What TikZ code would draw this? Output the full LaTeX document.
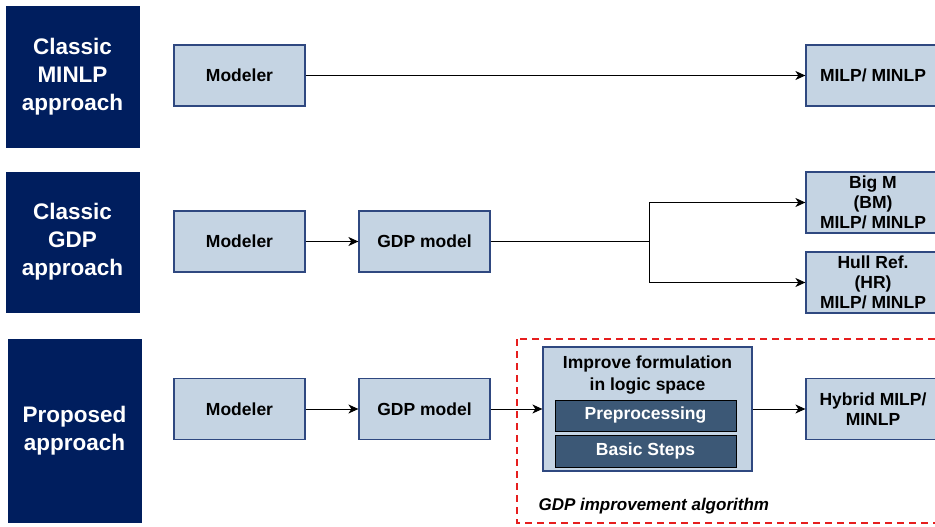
\documentclass[tikz,border=0pt]{standalone}
\usepackage{fontspec}
\setmainfont{Liberation Sans}
\usetikzlibrary{arrows.meta}

\definecolor{navy}{RGB}{0,30,94}
\definecolor{boxfill}{RGB}{197,212,227}
\definecolor{boxline}{RGB}{47,72,128}
\definecolor{stepfill}{RGB}{60,88,118}
\definecolor{algored}{RGB}{230,30,30}

\begin{document}
\begin{tikzpicture}[x=1pt,y=-1pt,
  approach/.style={fill=navy, draw=navy, text=white, align=center, minimum width=133pt,
    font=\fontsize{22.5}{28}\selectfont\bfseries},
  block/.style={fill=boxfill, draw=boxline, line width=1.2pt, align=center, minimum width=131pt,
    minimum height=61pt, font=\fontsize{17.5}{20}\selectfont\bfseries},
  stepbox/.style={fill=stepfill, draw=black, line width=1pt, text=white, minimum width=181pt,
    font=\fontsize{17.5}{20}\selectfont\bfseries},
  flow/.style={-{Stealth[length=10pt,width=9pt,inset=3pt]}, line width=1pt}]
 \useasboundingbox (0,0) rectangle (935,527);

 % approach labels
 \node[approach, minimum height=141pt] (cls1) at (72.5,76.5) {Classic\\MINLP\\approach};
 \node[approach, minimum height=140pt] (cls2) at (72.5,242) {Classic\\GDP\\approach};
 \node[approach, minimum height=183pt] (cls3) at (74.5,430.5) {Proposed\\approach};

 % classic MINLP
 \node[block] (mod1) at (239.5,75.5) {Modeler};
 \node[block, minimum width=134pt] (milp1) at (873,75.5) {MILP/ MINLP};
 \draw[flow] (mod1) -- (milp1);

 % classic GDP
 \node[block] (mod2) at (239.5,241.5) {Modeler};
 \node[block] (gdp2) at (424.5,241.5) {GDP model};
 \node[block, minimum width=134pt] (bigm) at (873,202.5) {Big M\\(BM)\\MILP/ MINLP};
 \node[block, minimum width=134pt] (hull) at (873,282.5) {Hull Ref.\\(HR)\\MILP/ MINLP};
 \coordinate (split) at (649,241.5);
 \draw[flow] (mod2) -- (gdp2);
 \draw[line width=1pt] (gdp2) -- (split);
 \draw[flow] (split) |- (bigm);
 \draw[flow] (split) |- (hull);

 % proposed
 \draw[algored, line width=1.3pt, dash pattern=on 7pt off 5pt] (517,339) rectangle (950,523);
 \node[font=\fontsize{17}{20}\selectfont\bfseries\itshape, anchor=west] (alg) at (535,506) {GDP improvement algorithm};

 \node[block] (mod3) at (239.5,409) {Modeler};
 \node[block] (gdp3) at (424.5,409) {GDP model};
 \node[block, minimum width=209pt, minimum height=124pt,
   label={[anchor=north, font=\fontsize{17.5}{22}\selectfont\bfseries, align=center, yshift=-6pt]north:{Improve formulation\\in logic space}}]
   (impr) at (647.5,409) {};
 \node[stepbox, minimum height=31pt] (pre) at (645.5,415.5) {Preprocessing};
 \node[stepbox, minimum height=32pt] (basic) at (645.5,451) {Basic Steps};
 \node[block, minimum width=134pt] (hyb) at (873,409) {Hybrid MILP/\\MINLP};
 \draw[flow] (mod3) -- (gdp3);
 \draw[flow] (gdp3) -- (impr);
 \draw[flow] (impr) -- (hyb);

\end{tikzpicture}
\end{document}
